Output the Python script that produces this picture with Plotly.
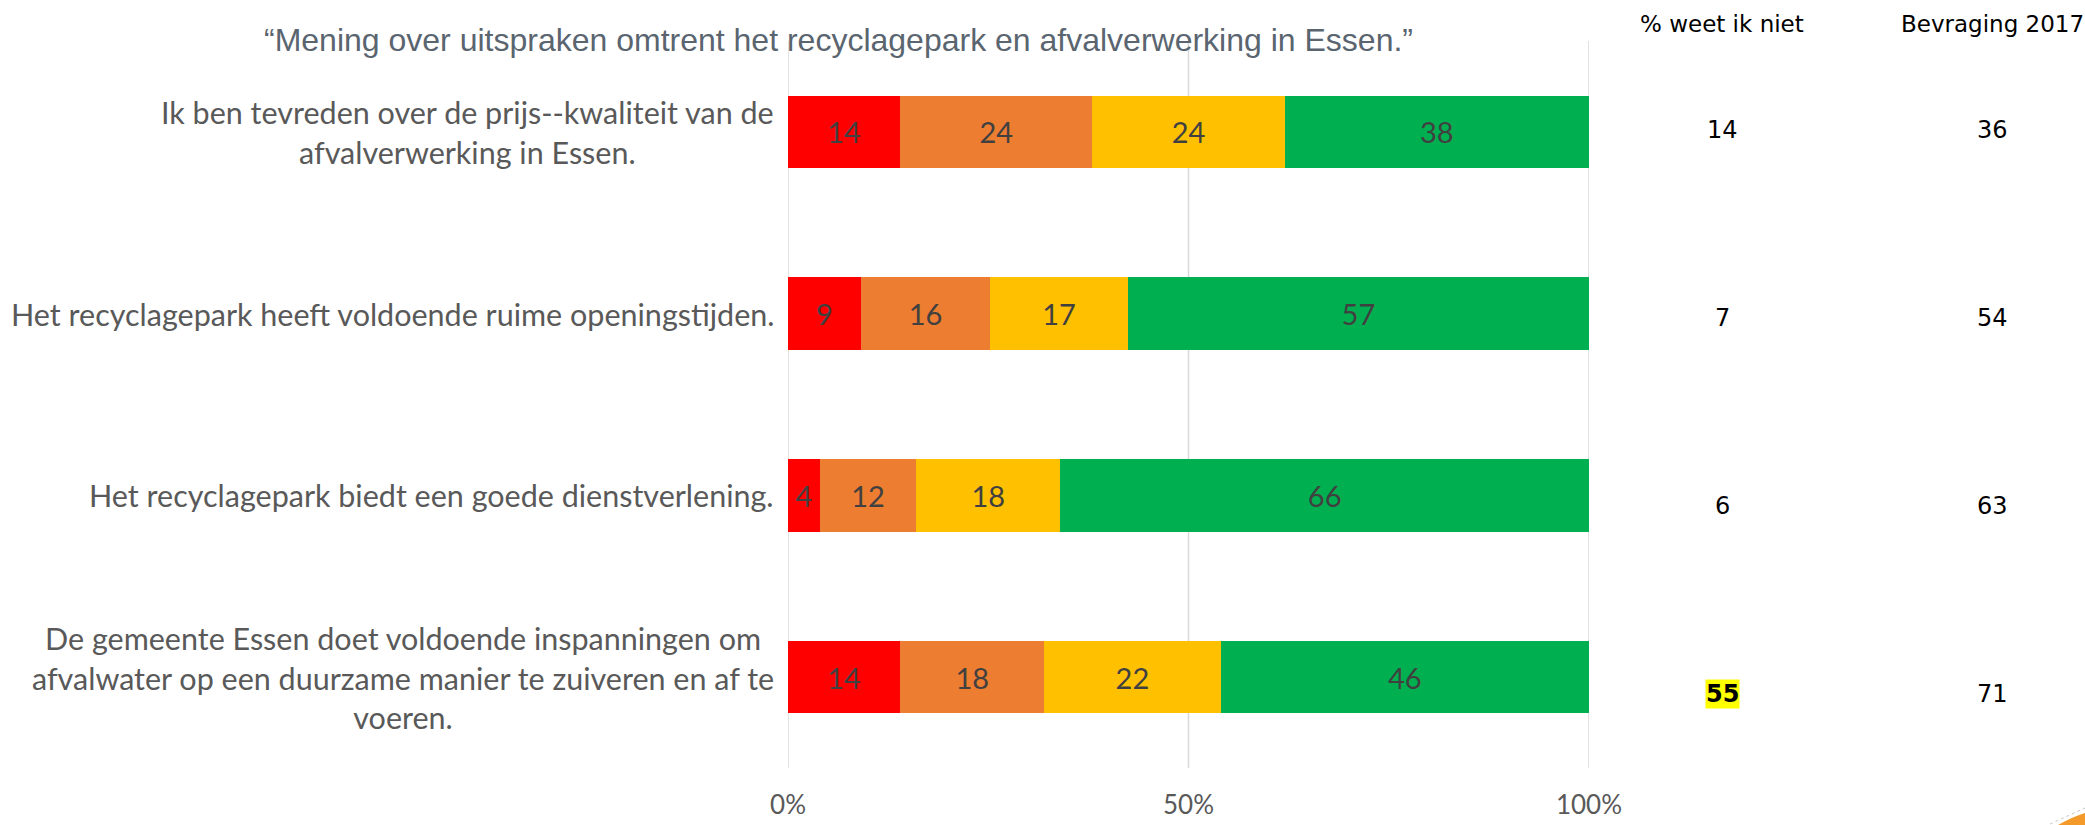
import plotly.graph_objects as go

# Survey statements (top to bottom)
statements = [
    "Ik ben tevreden over de prijs--kwaliteit van de<br>afvalverwerking in Essen.",
    "Het recyclagepark heeft voldoende ruime openingstijden.",
    "Het recyclagepark biedt een goede dienstverlening.",
    "De gemeente Essen doet voldoende inspanningen om<br>afvalwater op een duurzame manier te zuiveren en af te<br>voeren.",
]

# Answer shares per statement (red -> green)
zeer_oneens = [14, 9, 4, 14]
oneens = [24, 16, 12, 18]
eens = [24, 17, 18, 22]
zeer_eens = [38, 57, 66, 46]

# Side columns
weet_ik_niet = [14, 7, 6, 55]
bevraging_2017 = [36, 54, 63, 71]
highlighted_row = 3

# x-axis ticks (percent)
tick_values = [0, 50, 100]
tick_labels = ["0%", "50%", "100%"]

series_names = ["Helemaal niet akkoord", "Niet akkoord", "Akkoord", "Helemaal akkoord"]
series_values = [zeer_oneens, oneens, eens, zeer_eens]
series_colors = ["#FF0000", "#ED7D31", "#FFC000", "#00B050"]

W, H = 2085, 825
M_L, M_R, M_T, M_B = 788, 496, 41, 57
plot_w = W - M_L - M_R
plot_h = H - M_T - M_B


def px_x(px):
    return (px - M_L) / plot_w


def px_y(py):
    return (H - M_B - py) / plot_h


fig = go.Figure()
for name, vals, col in zip(series_names, series_values, series_colors):
    fig.add_trace(go.Bar(
        y=list(range(len(statements))),
        x=vals,
        orientation="h",
        name=name,
        marker=dict(color=col, line=dict(width=0)),
        text=[str(v) for v in vals],
        textposition="inside",
        insidetextanchor="middle",
        textangle=0,
        textfont=dict(family="Lato, sans-serif", size=29, color="#404040"),
        constraintext="none",
        cliponaxis=False,
        showlegend=False,
        hoverinfo="skip",
    ))

annotations = []

# statement labels, centred lines, right edge just left of the bars
for i, s in enumerate(statements):
    annotations.append(dict(
        x=-0.015, xref="paper", y=i, yref="y",
        xanchor="right", yanchor="middle", align="center",
        text=s, showarrow=False,
        font=dict(family="Lato, sans-serif", size=30.5, color="#595959"),
    ))

# title
annotations.append(dict(
    x=px_x(838), xref="paper", y=px_y(40), yref="paper",
    text="\u201cMening over uitspraken omtrent het recyclagepark en afvalverwerking in Essen.\u201d",
    showarrow=False, xanchor="center", yanchor="middle",
    font=dict(family="Liberation Sans Narrow, Arial Narrow, sans-serif", size=32, color="#5A6570"),
))

col_x = [1722, 1992]
headers = ["% weet ik niet", "Bevraging 2017"]
for cx, h in zip(col_x, headers):
    annotations.append(dict(
        x=px_x(cx), xref="paper", y=px_y(24), yref="paper",
        text=h, showarrow=False, xanchor="center", yanchor="middle",
        font=dict(family="DejaVu Sans, sans-serif", size=23, color="#000000"),
    ))

for i, (a, b) in enumerate(zip(weet_ik_niet, bevraging_2017)):
    row_y = px_y(130 + i * 188)
    hl = i == highlighted_row
    annotations.append(dict(
        x=px_x(col_x[0]), xref="paper", y=row_y, yref="paper",
        text=f"<b>{a}</b>" if hl else str(a), showarrow=False,
        xanchor="center", yanchor="middle",
        bgcolor="#FFFF00" if hl else "rgba(0,0,0,0)", borderpad=0,
        font=dict(family="DejaVu Sans, sans-serif", size=24, color="#000000"),
    ))
    annotations.append(dict(
        x=px_x(col_x[1]), xref="paper", y=row_y, yref="paper",
        text=str(b), showarrow=False, xanchor="center", yanchor="middle",
        font=dict(family="DejaVu Sans, sans-serif", size=24, color="#000000"),
    ))

shapes = []
# vertical gridlines at every tick, including the edges of the axis
for tv in tick_values:
    shapes.append(dict(
        type="line", xref="x", yref="paper", x0=tv, x1=tv, y0=0, y1=1,
        line=dict(color="#D9D9D9", width=1.5), layer="below",
    ))

# corner of the logo peeking in at the bottom right
shapes.append(dict(
    type="path", xref="paper", yref="paper",
    path=f"M {px_x(2058)},{px_y(825)} Q {px_x(2072)},{px_y(817)} {px_x(2085)},{px_y(813)} "
         f"L {px_x(2085)},{px_y(825)} Z",
    fillcolor="#F39A2B", line=dict(width=0), layer="above",
))
shapes.append(dict(
    type="line", xref="paper", yref="paper",
    x0=px_x(2050), y0=px_y(824), x1=px_x(2085), y1=px_y(808),
    line=dict(color="#C8C8C8", width=1, dash="dot"), layer="above",
))

fig.update_layout(
    width=W, height=H,
    margin=dict(l=M_L, r=M_R, t=M_T, b=M_B),
    paper_bgcolor="white", plot_bgcolor="white",
    barmode="stack", barnorm="percent", bargap=0.6,
    annotations=annotations,
    shapes=shapes,
    xaxis=dict(
        range=[0, 100], tickvals=tick_values, ticktext=tick_labels,
        showgrid=False, zeroline=False, showline=False, automargin=False,
        ticks="outside", ticklen=14, tickcolor="rgba(0,0,0,0)",
        tickfont=dict(family="Lato, sans-serif", size=26, color="#595959"),
        fixedrange=True,
    ),
    yaxis=dict(
        range=[3.5, -0.5], showticklabels=False, showgrid=False,
        zeroline=False, showline=False, fixedrange=True, automargin=False,
    ),
)

fig.write_html("out.html")
